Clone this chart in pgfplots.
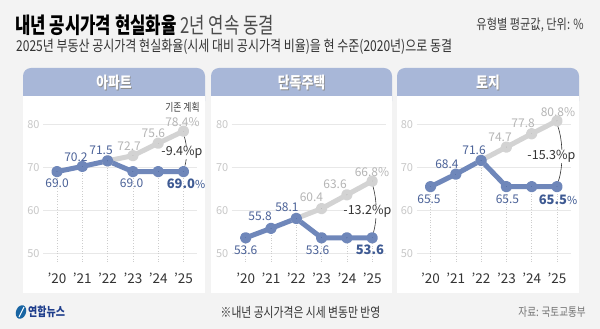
\documentclass[border=0pt]{standalone}
\usepackage{fontspec}
\setmainfont{Noto Sans CJK KR}
\newfontfamily\kr{Noto Sans CJK KR}[FakeStretch=0.8]
\newfontfamily\krt{Noto Sans CJK KR}[FakeStretch=0.76]
\usepackage{pgfplots}
\pgfplotsset{compat=1.18}
\definecolor{bg}{HTML}{F3F3F3}
\definecolor{hdr}{HTML}{A8B7D8}
\definecolor{bluel}{HTML}{6F87BA}
\definecolor{blued}{HTML}{3E5A93}
\definecolor{bluet}{HTML}{4B6298}
\definecolor{grayl}{HTML}{D3D3D3}
\definecolor{grayd}{HTML}{ABABAB}
\definecolor{grayt}{HTML}{B5B5B5}
\definecolor{gridc}{HTML}{E8E8E8}
\definecolor{ytc}{HTML}{C8C8C8}
\definecolor{dotc}{HTML}{CDCDCD}
\definecolor{tickc}{HTML}{333333}
\definecolor{navy}{HTML}{1F3E8C}
\newcommand{\fs}[1]{\fontsize{#1}{#1}\selectfont}
\tikzset{
 bt/.style={text=bluet, font=\fs{12}, inner sep=0pt},
 gt/.style={text=grayt, font=\fs{12}, inner sep=0pt},
 bb/.style={text=blued, font=\fs{13}\bfseries, inner sep=0pt},
 dt/.style={text=tickc, font=\fs{12.5}, fill=white, inner sep=0.5pt},
 br/.style={draw=tickc, line width=0.6pt},
}
\pgfplotsset{
 panel/.style={
  scale only axis, width=154.3pt, height=150.5pt,
  xmin=-0.55, xmax=5.55, ymin=48, ymax=83,
  clip=false,
  axis line style={draw=none},
  major tick style={draw=none},
  xtick={0,1,2,3,4,5},
  xticklabels={'20,'21,'22,'23,'24,'25},
  ytick={50,60,70,80},
  ymajorgrids,
  grid style={color=gridc, line width=0.7pt},
  xticklabel style={font=\fs{13.5}, text=tickc, yshift=-8pt},
  yticklabel style={font=\fs{11}, text=ytc},
  /pgf/number format/assume math mode=true,
  anchor=south west,
 },
 bl/.style={bluel, line width=5pt, line join=round, line cap=round, mark=*, mark size=3.2pt, mark options={fill=blued, draw=none}},
 gl/.style={grayl, line width=5pt, line join=round, line cap=round, mark=*, mark size=3.2pt, mark options={fill=grayd, draw=none}},
 dl/.style={dotc, dotted, line width=0.6pt, unbounded coords=jump},
}
\begin{document}
\begin{tikzpicture}[x=1pt,y=1pt]
\fill[bg] (0,0) rectangle (600,329);
% title
\node[anchor=west, inner sep=0pt] at (15,303.5) {\krt\fs{22}{\bfseries 내년 공시가격 현실화율} \textcolor{black!70}{2년 연속 동결}};
\node[anchor=west, inner sep=0pt, text=tickc] at (16,282) {\kr\fs{15}2025년 부동산 공시가격 현실화율(시세 대비 공시가격 비율)을 현 수준(2020년)으로 동결};
\node[anchor=east, inner sep=0pt, text=black!75] at (584,304) {\kr\fs{14}유형별 평균값, 단위: \%};
% panels
\foreach \xa/\xb/\nm in {23/205/아파트, 211/392/단독주택, 397/579/토지}{
  \fill[hdr, rounded corners=8pt] (\xa,220) rectangle (\xb,261);
  \fill[white] (\xa,36) rectangle (\xb,233);
  \node[text=black!45, inner sep=0pt] at ({(\xa+\xb)/2+0.8},245.2) {\kr\fs{16}\bfseries\nm};
  \node[text=white, inner sep=0pt] at ({(\xa+\xb)/2},246) {\kr\fs{16}\bfseries\nm};
}
% footer
\fill[navy!80!cyan] (21,17) ellipse [x radius=5pt, y radius=7pt, rotate=-20];
\draw[white, line width=1pt] (19,12) .. controls (21,17) .. (24,22);
\node[anchor=west, inner sep=0pt, text=navy] at (28,17) {\kr\fs{12.5}\bfseries 연합뉴스};
\node[inner sep=0pt, text=tickc] at (300.5,16.5) {\kr\fs{13.5}※내년 공시가격은 시세 변동만 반영};
\node[anchor=east, inner sep=0pt, text=black!55] at (586,16.5) {\kr\fs{12}자료: 국토교통부};

% panel 1
\begin{axis}[panel, at={(43.1pt,67.1pt)}]
\addplot[dl] coordinates {(0,48)(0,69.0) (0,nan) (1,48)(1,70.2) (1,nan) (2,48)(2,71.5) (2,nan) (3,48)(3,69.0) (3,nan) (4,48)(4,69.0) (4,nan) (5,48)(5,69.0)};
\addplot[gl] coordinates {(2,71.5)(3,72.7)(4,75.6)(5,78.4)};
\addplot[bl] coordinates {(0,69.0)(1,70.2)(2,71.5)(3,69.0)(4,69.0)(5,69.0)};
\node[bt] at (axis cs:0,66.2) {69.0};
\node[bt] at (axis cs:0.75,72.4) {70.2};
\node[bt] at (axis cs:1.74,74.0) {71.5};
\node[gt] at (axis cs:2.85,74.8) {72.7};
\node[gt] at (axis cs:3.81,78.0) {75.6};
\node[gt] at (axis cs:4.96,80.5) {78.4\%};
\node[text=black!75, inner sep=0pt] at (axis cs:4.96,84.0) {\kr\fs{11}기존 계획};
\node[bt] at (axis cs:2.95,66.2) {69.0};
\node[bb] at (axis cs:5.1,66.2) {69.0{\mdseries\fs{11}\%}};
\draw[br] (axis cs:5.03,77.2) .. controls (axis cs:5.15,75) and (axis cs:5.15,72.4) .. (axis cs:5.06,70.4);
\node[dt] at (axis cs:4.94,73.4) {-9.4\%p};
\end{axis}

% panel 2
\begin{axis}[panel, at={(231.8pt,67.1pt)}]
\addplot[dl] coordinates {(0,48)(0,53.6) (0,nan) (1,48)(1,55.8) (1,nan) (2,48)(2,58.1) (2,nan) (3,48)(3,53.6) (3,nan) (4,48)(4,53.6) (4,nan) (5,48)(5,53.6)};
\addplot[gl] coordinates {(2,58.1)(3,60.4)(4,63.6)(5,66.8)};
\addplot[bl] coordinates {(0,53.6)(1,55.8)(2,58.1)(3,53.6)(4,53.6)(5,53.6)};
\node[bt] at (axis cs:0,50.8) {53.6};
\node[bt] at (axis cs:0.57,58.7) {55.8};
\node[bt] at (axis cs:1.63,60.8) {58.1};
\node[gt] at (axis cs:2.6,63.1) {60.4};
\node[gt] at (axis cs:3.53,66.0) {63.6};
\node[gt] at (axis cs:4.99,68.9) {66.8\%};
\node[bt] at (axis cs:2.84,50.8) {53.6};
\node[bb] at (axis cs:4.91,50.8) {53.6};
\draw[br] (axis cs:5.03,65.6) .. controls (axis cs:5.2,62) and (axis cs:5.2,58) .. (axis cs:5.05,54.8);
\node[dt] at (axis cs:4.81,59.8) {-13.2\%p};
\end{axis}

% panel 3
\begin{axis}[panel, at={(416.6pt,67.1pt)}]
\addplot[dl] coordinates {(0,48)(0,65.5) (0,nan) (1,48)(1,68.4) (1,nan) (2,48)(2,71.6) (2,nan) (3,48)(3,65.5) (3,nan) (4,48)(4,65.5) (4,nan) (5,48)(5,65.5)};
\addplot[gl] coordinates {(2,71.6)(3,74.7)(4,77.8)(5,80.8)};
\addplot[bl] coordinates {(0,65.5)(1,68.4)(2,71.6)(3,65.5)(4,65.5)(5,65.5)};
\node[bt] at (axis cs:-0.06,62.5) {65.5};
\node[bt] at (axis cs:0.65,70.8) {68.4};
\node[bt] at (axis cs:1.72,74.0) {71.6};
\node[gt] at (axis cs:2.75,77.0) {74.7};
\node[gt] at (axis cs:3.66,80.3) {77.8};
\node[gt] at (axis cs:5.04,82.9) {80.8\%};
\node[bt] at (axis cs:3.04,62.5) {65.5};
\node[bb] at (axis cs:5.04,62.5) {65.5{\mdseries\fs{11}\%}};
\draw[br] (axis cs:5.03,79.6) .. controls (axis cs:5.25,76) and (axis cs:5.25,70) .. (axis cs:5.05,66.7);
\node[dt] at (axis cs:4.78,72.5) {-15.3\%p};
\end{axis}
\end{tikzpicture}
\end{document}
